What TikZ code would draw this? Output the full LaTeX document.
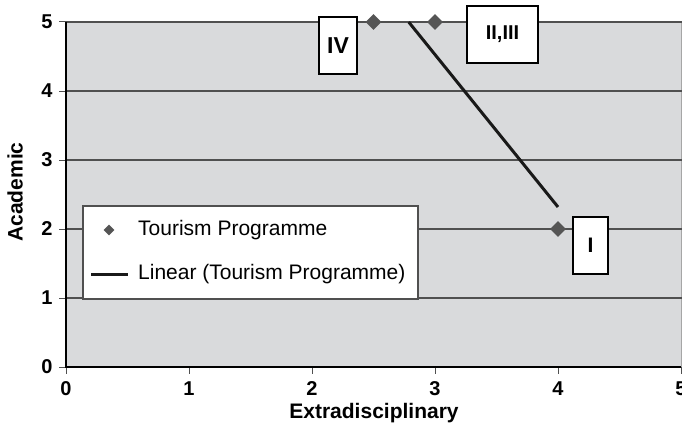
\documentclass[tikz,border=0pt]{standalone}
\usepackage{fontspec}
\setmainfont{Liberation Sans}
\usetikzlibrary{shapes.geometric}
\definecolor{plotbg}{HTML}{D9DADC}
\definecolor{gridc}{HTML}{505050}
\definecolor{markc}{HTML}{555555}
\tikzset{
  ticklab/.style={font=\fontsize{20}{20}\selectfont\bfseries, inner sep=0pt},
  axtitle/.style={font=\fontsize{21}{21}\selectfont\bfseries, inner sep=0pt},
  tagbox/.style={draw=black, line width=1.2pt, fill=white, font=\fontsize{20}{20}\selectfont\bfseries, inner sep=0pt},
  datamark/.style={diamond, fill=markc, inner sep=0pt, minimum width=16pt, minimum height=16pt},
  legtext/.style={font=\fontsize{21}{21}\selectfont, anchor=west, inner sep=0pt},
  gridline/.style={draw=gridc, line width=1.3pt},
  trend/.style={draw=black!90, line width=3pt}
}
\begin{document}
\begin{tikzpicture}[x=1pt, y=-1pt]
\useasboundingbox (0,0) rectangle (682,428);
% plot area
\fill[plotbg] (66,22) rectangle (681,367);
\draw[gray!70, line width=1pt] (681,22) -- (681,367);
% horizontal grid lines and y ticks
\foreach \v/\yy in {1/298, 2/229, 3/160, 4/91, 5/22} {
  \draw[gridline] (66,\yy) -- (682,\yy);
}
\foreach \v/\yy in {0/367, 1/298, 2/229, 3/160, 4/91, 5/22} {
  \draw[gridc, line width=1pt] (59,\yy) -- (66,\yy);
  \node[ticklab] (yl\v) at (47,\yy) {\v};
}
% x ticks
\foreach \v in {0,...,5} {
  \pgfmathsetmacro{\xx}{66+123*\v}
  \draw[gridc, line width=1pt] (\xx,367) -- (\xx,374);
  \node[ticklab] (xl\v) at (\xx,389) {\v};
}
% axes
\draw[black, line width=2pt] (66,22) -- (66,368);
\draw[black, line width=2pt] (65,367) -- (681,367);
% axis titles
\node[axtitle] (xtitle) at (374,413) {Extradisciplinary};
\node[axtitle, rotate=90] (ytitle) at (15,192) {Academic};
% trend line
\coordinate (t1) at (408.7,22);
\coordinate (t2) at (558,207);
\draw[trend] (t1) -- (t2);
% data points
\node[datamark] (p1) at (373.5,22) {};
\node[datamark] (p2) at (435,22) {};
\node[datamark] (p3) at (558,229) {};
% point tags
\node[tagbox, minimum width=38pt, minimum height=57pt, font=\fontsize{23}{23}\selectfont\bfseries] (tIV) at (338,45.5) {IV};
\node[tagbox, minimum width=71pt, minimum height=57pt] (tII) at (502.5,34.5) {II,III};
\node[tagbox, minimum width=35pt, minimum height=57pt, font=\fontsize{21}{21}\selectfont\bfseries] (tI) at (590.5,245.5) {I};
% legend
\node[draw=gridc, line width=1.2pt, fill=white, minimum width=335pt, minimum height=93pt, inner sep=0pt] (legend) at (250.5,252.5) {};
\node[diamond, fill=markc, inner sep=0pt, minimum width=11pt, minimum height=11pt] (lmark) at (109,230) {};
\node[legtext] (ltext1) at (138,230) {Tourism Programme};
\coordinate (la) at (91,274);
\coordinate (lb) at (128,274);
\draw[trend] (la) -- (lb);
\node[legtext] (ltext2) at (138,274) {Linear (Tourism Programme)};
\end{tikzpicture}
\end{document}
